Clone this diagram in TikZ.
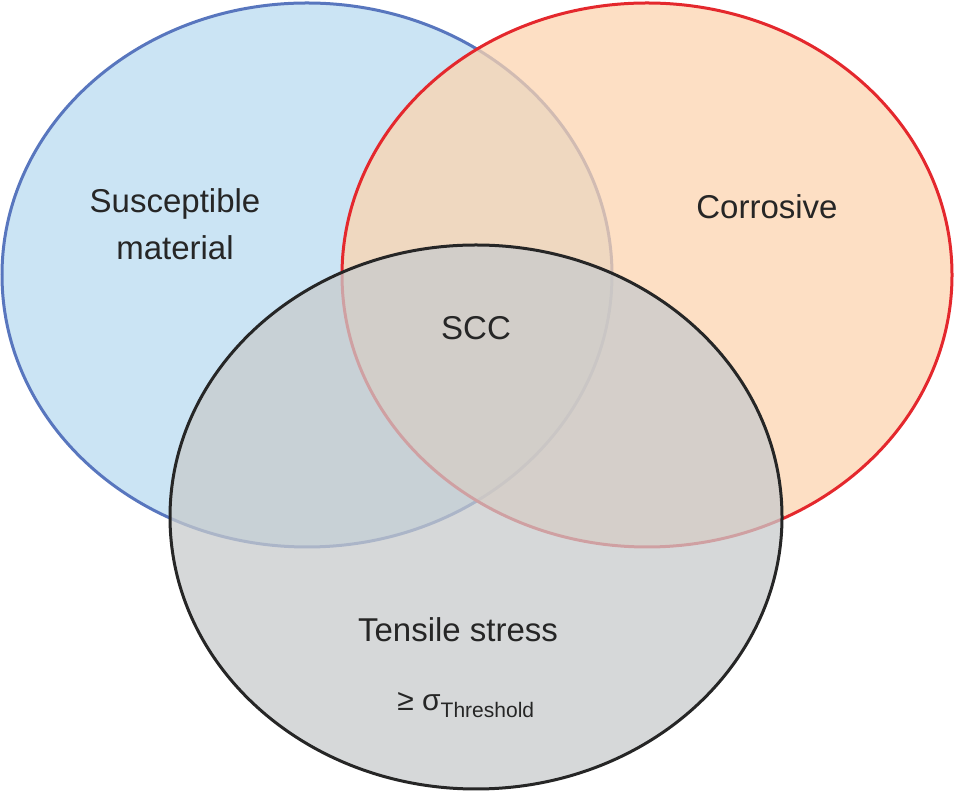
\documentclass[tikz,border=0pt]{standalone}
\usepackage{fontspec}
\setmainfont{Liberation Sans}
\definecolor{matblue}{RGB}{88,118,190}
\definecolor{matfill}{RGB}{185,218,240}
\definecolor{corred}{RGB}{228,40,45}
\definecolor{corfill}{RGB}{252,212,175}
\definecolor{strfill}{RGB}{200,203,204}
\begin{document}
\begin{tikzpicture}[x=1pt,y=1pt,
	setcircle/.style={line width=3pt, fill opacity=0.74},
	setlabel/.style={font=\fontsize{33}{47}\selectfont, align=center, text=black!85}]
	\useasboundingbox (0,0) rectangle (958,792);
	
	\draw[setcircle, draw=matblue, fill=matfill] (307,517) ellipse [x radius=305, y radius=272];
	\draw[setcircle, draw=corred, fill=corfill] (647,517) ellipse [x radius=305, y radius=272];
	\draw[setcircle, draw=black!85, fill=strfill] (476,275) ellipse [x radius=306, y radius=272];
	
	\node[setlabel] (mat) at (175,568) {Susceptible\\material};
	\node[setlabel] (cor) at (767,585) {Corrosive};
	\node[setlabel] (scc) at (476,464) {SCC};
	\node[setlabel] (ten) at (458,162) {Tensile stress};
	\node[setlabel, font=\fontsize{30}{36}\selectfont] (thr) at (466,87) {≥ σ\textsubscript{Threshold}};
\end{tikzpicture}
\end{document}
